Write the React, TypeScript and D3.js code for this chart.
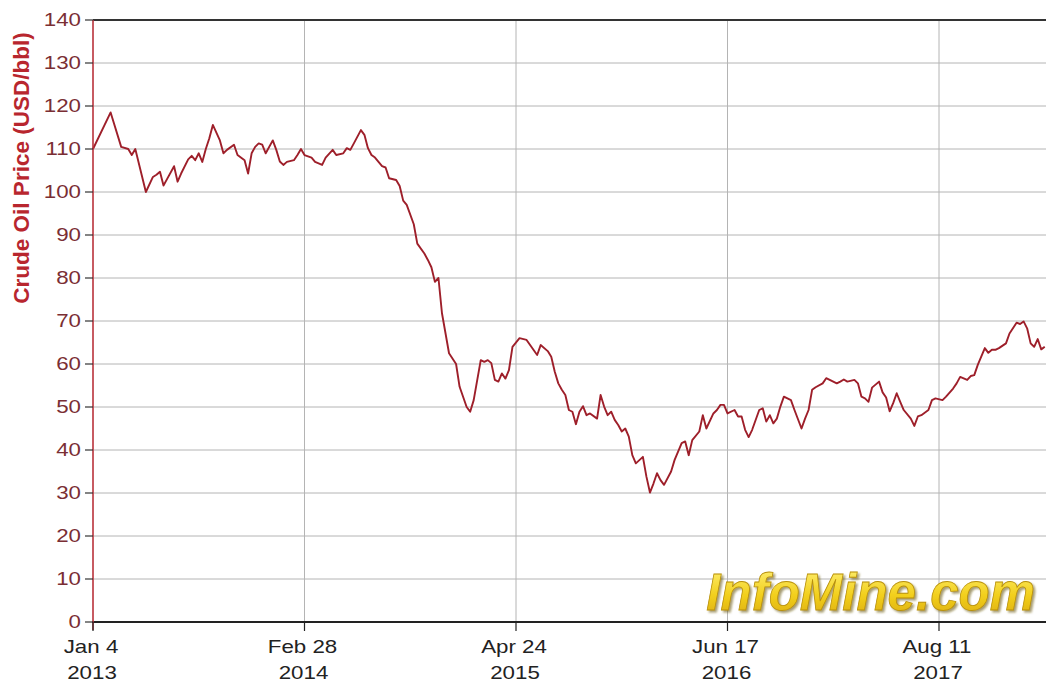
import * as d3 from "d3"

// weeks since Jan 4 2013, weekly closing price
const weeks = [
  0, 5, 8, 10, 11, 12, 15, 17, 18, 19, 20, 21, 23, 24, 25, 27, 28, 29, 30, 31, 32, 33, 34, 36, 37, 38, 40, 41, 43, 44,
  45, 46, 47, 48, 49, 51, 52, 53, 54, 55, 57, 58, 59, 60, 62, 63, 65, 66, 68, 69, 71, 72, 73, 74, 76, 77, 78, 79, 80,
  82, 83, 84, 86, 87, 88, 89, 91, 92, 94, 95, 96, 97, 98, 99, 101, 103, 104, 106, 107, 108, 110, 111, 112, 113, 114,
  115, 116, 117, 118, 119, 121, 123, 124, 126, 127, 129, 130, 131, 132, 133, 134, 135, 136, 137, 138, 139, 140, 141,
  143, 144, 145, 146, 147, 148, 149, 150, 151, 152, 153, 154, 156, 157, 158, 159, 160, 161, 162, 164, 165, 167, 168,
  169, 170, 172, 173, 174, 176, 177, 178, 179, 180, 182, 183, 184, 185, 186, 187, 189, 190, 191, 192, 193, 194, 195,
  196, 198, 199, 201, 202, 203, 204, 205, 207, 208, 210, 211, 212, 213, 214, 216, 217, 218, 219, 220, 221, 223, 224,
  225, 226, 227, 228, 229, 230, 232, 233, 234, 235, 237, 238, 239, 241, 242, 244, 245, 246, 248, 249, 250, 251, 253,
  254, 255, 256, 257, 259, 260, 262, 263, 264, 265, 266, 267, 268, 269, 270,
]
const prices = [
  110, 118.5, 110.5, 110, 108.6, 110, 100, 103.5, 104, 104.7, 101.5, 103, 106, 102.4, 104.3, 107.6, 108.4, 107.4, 109,
  107, 110, 112.5, 115.6, 112, 109, 109.8, 111, 108.6, 107.4, 104.3, 109, 110.5, 111.3, 111, 109, 112, 109.8, 107.1,
  106.3, 107, 107.4, 108.6, 110, 108.6, 108, 107, 106.3, 108, 109.8, 108.6, 109, 110.2, 109.8, 111.3, 114.4, 113.3,
  110.2, 108.6, 108, 106, 105.7, 103.2, 102.8, 101.4, 98, 97, 92.5, 88, 85.7, 84.2, 82.5, 79.1, 80, 71.8, 62.5, 60,
  54.7, 50, 48.9, 51.6, 60.9, 60.5, 60.9, 60.2, 56.3, 55.9, 57.8, 56.6, 58.6, 64, 66, 65.6, 64.4, 62.1, 64.4, 63, 61.7,
  58.2, 55.5, 54, 52.8, 49.3, 48.9, 46, 48.9, 50.2, 48.1, 48.5, 47.3, 52.8, 50.1, 48.1, 48.9, 47, 45.8, 44.3, 45, 43.1,
  38.8, 36.9, 38.4, 33.8, 30.1, 32.2, 34.6, 33, 31.9, 35, 37.7, 41.6, 42, 38.8, 42.3, 44.3, 48.1, 45, 48.5, 49.3, 50.5,
  50.5, 48.5, 49.3, 47.8, 47.8, 44.7, 43, 44.7, 49.3, 49.7, 46.6, 48.1, 46.2, 47.3, 50.1, 52.4, 51.6, 49.3, 45, 47.3,
  49.3, 54, 54.6, 55.5, 56.7, 55.9, 55.5, 55.9, 56.4, 55.9, 56.3, 55.5, 52.4, 52, 51.2, 54.5, 55.9, 53.4, 52.2, 49,
  50.9, 53.2, 51.2, 49.3, 47.3, 45.6, 47.8, 48.1, 49.3, 51.6, 52, 51.6, 52.4, 54.3, 55.5, 57, 56.3, 57.2, 57.4, 59.8,
  63.7, 62.6, 63.3, 63.3, 63.7, 64.8, 67.1, 69.6, 69.3, 69.9, 68.3, 64.8, 64, 65.8, 63.4, 64,
]

const tickDates = [
  new Date(2013, 0, 4),
  new Date(2014, 1, 28),
  new Date(2015, 3, 24),
  new Date(2016, 5, 17),
  new Date(2017, 7, 11),
]
const tickDayLabels = ["Jan 4", "Feb 28", "Apr 24", "Jun 17", "Aug 11"]
const tickYearLabels = ["2013", "2014", "2015", "2016", "2017"]
const yTickValues = [0, 10, 20, 30, 40, 50, 60, 70, 80, 90, 100, 110, 120, 130, 140]

const W = 1046
const H = 682
const left = 93
const right = 1046
const top = 20
const bottom = 622
// the source picture is stretched sideways, so its lettering is wider than normal
const stretch = 1.24

const font = "'Liberation Sans', Arial, sans-serif"

export default function App() {
  const start = tickDates[0]
  const dates = weeks.map((w) => d3.timeDay.offset(start, w * 7))

  const xScale = d3.scaleTime().domain([tickDates[0], tickDates[4]]).range([left, 939])
  const yScale = d3.scaleLinear().domain([0, 140]).range([bottom, top])

  const line = d3
    .line<number>()
    .x((_, i) => xScale(dates[i]))
    .y((d) => yScale(d))

  return (
    <div>
      <style>{`body{margin:0}`}</style>
      <svg width={W} height={H} style={{ display: "block", background: "#fff" }} fontFamily={font}>
        <defs>
          <linearGradient id="gold" x1="0" y1="0" x2="0" y2="1">
            <stop offset="0%" stopColor="#fff27a" />
            <stop offset="55%" stopColor="#f2cf1c" />
            <stop offset="100%" stopColor="#d9a90c" />
          </linearGradient>
          <filter id="wmShadow" x="-5%" y="-20%" width="110%" height="140%">
            <feDropShadow dx="2" dy="2" stdDeviation="1.2" floodColor="#6d5a10" floodOpacity="0.6" />
          </filter>
        </defs>

        {/* grid */}
        {yTickValues.map((v) => (
          <line key={"gy" + v} x1={left} x2={right} y1={yScale(v)} y2={yScale(v)} stroke="#b4b4b4" strokeWidth={1} />
        ))}
        {tickDates.map((d, i) => (
          <line key={"gx" + i} x1={xScale(d)} x2={xScale(d)} y1={top} y2={bottom} stroke="#b4b4b4" strokeWidth={1} />
        ))}

        {/* watermark */}
        <text
          x={1035}
          y={610}
          textAnchor="end"
          fontSize={51}
          fontWeight="bold"
          fontStyle="italic"
          fill="url(#gold)"
          stroke="#b8900a"
          strokeWidth={0.8}
          filter="url(#wmShadow)"
        >
          InfoMine.com
        </text>

        {/* price line */}
        <path d={line(prices) ?? ""} fill="none" stroke="#9e1f2a" strokeWidth={1.9} strokeLinejoin="round" />

        {/* frame */}
        <line x1={left} x2={right} y1={top} y2={top} stroke="#333" strokeWidth={2} />
        <line x1={left - 1} x2={right} y1={bottom} y2={bottom} stroke="#222" strokeWidth={2} />
        <line x1={left} x2={left} y1={top} y2={bottom + 8} stroke="#c0303a" strokeWidth={1.5} />

        {/* y axis */}
        {yTickValues.map((v) => (
          <g key={"ty" + v}>
            <line x1={left - 8} x2={left} y1={yScale(v)} y2={yScale(v)} stroke="#333" strokeWidth={1.2} />
            <text
              transform={`translate(${left - 12},${yScale(v)}) scale(${stretch},1)`}
              textAnchor="end"
              dominantBaseline="central"
              fontSize={18}
              fill="#7a2e34"
            >
              {v}
            </text>
          </g>
        ))}
        <text
          transform={`translate(29,168) rotate(-90)`}
          textAnchor="middle"
          fontSize={22.5}
          fontWeight="bold"
          fill="#b8262e"
        >
          Crude Oil Price (USD/bbl)
        </text>

        {/* x axis */}
        {tickDates.map((d, i) => (
          <g key={"tx" + i}>
            <line x1={xScale(d)} x2={xScale(d)} y1={bottom} y2={bottom + 9} stroke="#222" strokeWidth={1.2} />
            <text
              transform={`translate(${xScale(d) - 2},653) scale(${stretch},1)`}
              textAnchor="middle"
              fontSize={18}
              fill="#222"
            >
              {tickDayLabels[i]}
            </text>
            <text
              transform={`translate(${xScale(d) - 1},679) scale(${stretch},1)`}
              textAnchor="middle"
              fontSize={18}
              fill="#222"
            >
              {tickYearLabels[i]}
            </text>
          </g>
        ))}
      </svg>
    </div>
  )
}
